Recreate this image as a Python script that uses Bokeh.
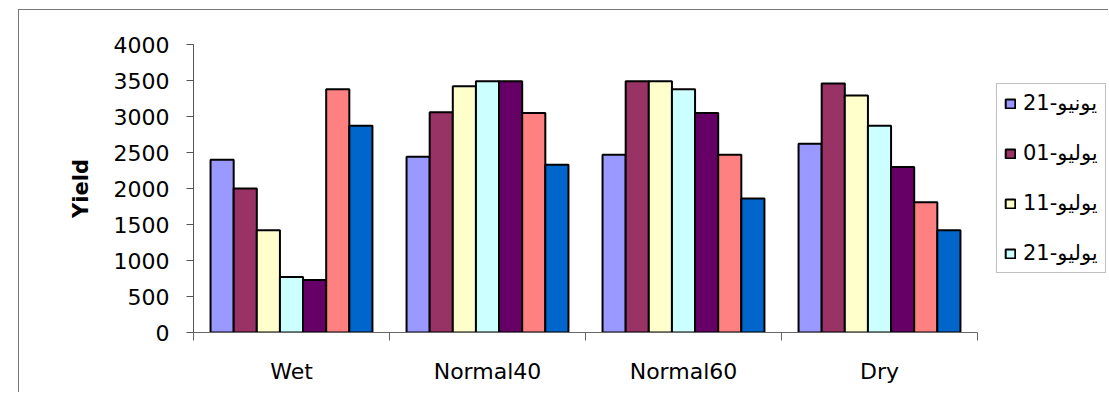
from bokeh.plotting import figure
from bokeh.models import ColumnDataSource, Range1d, FixedTicker, Legend, LegendItem
from bokeh.transform import dodge
from bokeh.embed import file_html
from bokeh.resources import INLINE

# ---- data ----
categories = ["Wet", "Normal40", "Normal60", "Dry"]
series_names = ["21-يونيو", "01-يوليو", "11-يوليو", "21-يوليو",
                "31-يوليو", "10-أغسطس", "20-أغسطس"]
s1 = [2400, 2440, 2470, 2620]
s2 = [2000, 3060, 3490, 3460]
s3 = [1420, 3420, 3490, 3290]
s4 = [770, 3490, 3380, 2870]
s5 = [730, 3490, 3050, 2300]
s6 = [3380, 3050, 2470, 1810]
s7 = [2870, 2330, 1860, 1420]
series_values = [s1, s2, s3, s4, s5, s6, s7]
y_ticks = [0, 500, 1000, 1500, 2000, 2500, 3000, 3500, 4000]
legend_shown = 4

colors = ["#9999FF", "#993366", "#FFFFCC", "#CCFFFF", "#660066", "#FF8080", "#0066CC"]

n_cat = len(categories)
centers = [i + 0.5 for i in range(n_cat)]
data = {"x": centers}
for i, vals in enumerate(series_values):
    data[f"s{i}"] = vals
source = ColumnDataSource(data)

# plot area spans 193..1109 px; categories occupy 193..977 px
frame_px = 1109 - 193
cat_px = 977 - 193
x_max = n_cat * frame_px / cat_px

p = figure(width=1090, height=383, output_backend="svg", toolbar_location=None,
           x_range=Range1d(0, x_max), y_range=Range1d(0, 4000),
           min_border_left=174, min_border_top=34, min_border_right=0,
           min_border_bottom=61, background_fill_color="white",
           border_fill_color="white")
p.styles = {"margin-left": "18px", "margin-top": "9px",
            "border-left": "1px solid #777777", "border-top": "1px solid #777777"}
p.outline_line_color = None
p.grid.visible = False

bw = 0.118
renderers = []
for i in range(len(series_values)):
    off = (i - (len(series_values) - 1) / 2) * bw
    r = p.vbar(x=dodge("x", off), top=f"s{i}", width=bw, source=source,
               fill_color=colors[i], line_color="black", line_width=2)
    renderers.append(r)

# y axis
ya = p.yaxis[0]
ya.ticker = FixedTicker(ticks=y_ticks)
ya.axis_line_color = "#555555"
ya.major_tick_line_color = "#555555"
ya.major_tick_out = 7
ya.major_tick_in = 0
ya.minor_tick_line_color = None
ya.major_label_text_font = "DejaVu Sans"
ya.major_label_text_font_size = "22px"
ya.major_label_text_color = "black"
ya.major_label_standoff = 17
ya.axis_label = "Yield"
ya.axis_label_text_font = "DejaVu Sans"
ya.axis_label_text_font_style = "bold"
ya.axis_label_text_font_size = "21px"
ya.axis_label_text_color = "black"
ya.axis_label_standoff = 18

# x axis
xa = p.xaxis[0]
xa.bounds = (0, n_cat)
xa.ticker = FixedTicker(ticks=centers, minor_ticks=list(range(n_cat + 1)))
xa.major_label_overrides = {c: lab for c, lab in zip(centers, categories)}
xa.axis_line_color = "#666666"
xa.major_tick_line_color = None
xa.major_tick_out = 8
xa.major_tick_in = 0
xa.minor_tick_line_color = "#666666"
xa.minor_tick_out = 8
xa.minor_tick_in = 0
xa.major_label_text_font = "DejaVu Sans"
xa.major_label_text_font_size = "22px"
xa.major_label_text_color = "black"
xa.major_label_standoff = 18

legend = Legend(items=[LegendItem(label=series_names[i], renderers=[renderers[i]])
                       for i in range(legend_shown)],
                location=(803, 59))
legend.border_line_color = "#808080"
legend.border_line_width = 1
legend.background_fill_color = "white"
legend.background_fill_alpha = 1
legend.label_text_font = "DejaVu Sans"
legend.label_text_font_size = "21px"
legend.label_text_color = "black"
legend.glyph_width = 12
legend.glyph_height = 11
legend.label_standoff = 7
legend.label_height = 22
legend.spacing = 26
legend.padding = 7
legend.margin = 0
p.add_layout(legend)

open("out.html", "w").write(file_html(p, INLINE))
